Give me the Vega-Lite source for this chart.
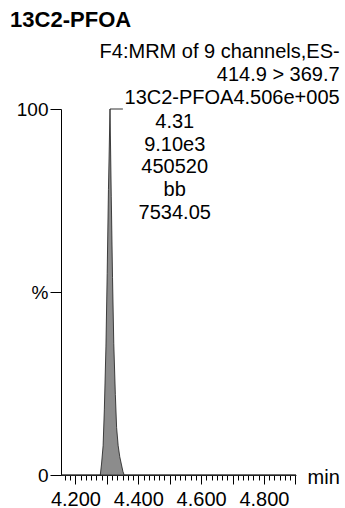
{
  "$schema": "https://vega.github.io/schema/vega-lite/v6.json",
  "autosize": "none",
  "width": 235,
  "height": 366,
  "padding": {"left": 61, "top": 109, "right": 49, "bottom": 33},
  "background": "white",
  "config": {
    "view": {"stroke": null},
    "font": "Liberation Sans",
    "axis": {"labelFont": "Liberation Sans", "labelColor": "black", "domainColor": "black", "tickColor": "black", "grid": false, "title": null}
  },
  "datasets": {
    "peak": [
      {"t": 4.154, "pct": 0},
      {"t": 4.279, "pct": 0},
      {"t": 4.283, "pct": 3},
      {"t": 4.288, "pct": 8},
      {"t": 4.292, "pct": 18},
      {"t": 4.297, "pct": 35},
      {"t": 4.301, "pct": 55},
      {"t": 4.305, "pct": 78},
      {"t": 4.310, "pct": 100},
      {"t": 4.314, "pct": 76},
      {"t": 4.318, "pct": 54},
      {"t": 4.322, "pct": 36},
      {"t": 4.327, "pct": 22},
      {"t": 4.331, "pct": 13},
      {"t": 4.336, "pct": 8},
      {"t": 4.341, "pct": 5},
      {"t": 4.346, "pct": 3},
      {"t": 4.351, "pct": 1},
      {"t": 4.355, "pct": 0},
      {"t": 4.902, "pct": 0}
    ]
  },
  "layer": [
    {
      "data": {"name": "peak"},
      "mark": {"type": "area", "fill": "#8c8c8c", "stroke": "#1a1a1a", "strokeWidth": 0.8, "interpolate": "linear"},
      "encoding": {
        "x": {"field": "t", "type": "quantitative", "scale": {"domain": [4.154, 4.902], "nice": false, "zero": false},
          "axis": {
            "values": [4.16667, 4.18333, 4.2, 4.21667, 4.23333, 4.25, 4.26667, 4.28333, 4.3, 4.31667, 4.33333, 4.35, 4.36667, 4.38333, 4.4, 4.41667, 4.43333, 4.45, 4.46667, 4.48333, 4.5, 4.51667, 4.53333, 4.55, 4.56667, 4.58333, 4.6, 4.61667, 4.63333, 4.65, 4.66667, 4.68333, 4.7, 4.71667, 4.73333, 4.75, 4.76667, 4.78333, 4.8, 4.81667, 4.83333, 4.85, 4.86667, 4.88333, 4.9],
            "tickCount": 200,
            "labelExpr": "abs(datum.value*5 - round(datum.value*5)) < 0.001 ? format(datum.value, '.3f') : ''",
            "tickSize": {"condition": {"test": "abs(datum.value*10 - round(datum.value*10)) < 0.001", "value": 9}, "value": 5},
            "labelFontSize": 20,
            "labelPadding": 5,
            "labelOverlap": false,
            "labelFlush": false,
            "domainColor": "#333"
          }
        },
        "y": {"field": "pct", "type": "quantitative", "scale": {"domain": [0, 100], "nice": false},
          "axis": {
            "values": [0, 50, 100],
            "labelExpr": "datum.value == 50 ? '%' : datum.label",
            "tickSize": 11,
            "labelPadding": 2,
            "labelFontSize": 19
          }
        }
      }
    },
    {
      "data": {"values": [{"t": 4.310, "t2": 4.351, "pct": 100}]},
      "mark": {"type": "rule", "color": "#333", "strokeWidth": 1},
      "encoding": {
        "x": {"field": "t", "type": "quantitative"},
        "x2": {"field": "t2"},
        "y": {"field": "pct", "type": "quantitative"}
      }
    },
    {
      "data": {"values": [{"label": "13C2-PFOA", "t": 3.992, "pct": 124.3}]},
      "mark": {"type": "text", "align": "left", "baseline": "middle", "fontSize": 22, "fontWeight": "bold", "font": "Liberation Sans", "color": "black", "clip": false},
      "encoding": {
        "x": {"field": "t", "type": "quantitative"},
        "y": {"field": "pct", "type": "quantitative"},
        "text": {"field": "label"}
      }
    },
    {
      "data": {"values": [
        {"label": "F4:MRM of 9 channels,ES-", "t": 5.041, "pct": 115.6},
        {"label": "414.9 > 369.7", "t": 5.041, "pct": 109.3},
        {"label": "13C2-PFOA4.506e+005", "t": 5.041, "pct": 103.0}
      ]},
      "mark": {"type": "text", "align": "right", "baseline": "middle", "fontSize": 20, "font": "Liberation Sans", "color": "black", "clip": false},
      "encoding": {
        "x": {"field": "t", "type": "quantitative"},
        "y": {"field": "pct", "type": "quantitative"},
        "text": {"field": "label"}
      }
    },
    {
      "data": {"values": [
        {"label": "4.31", "t": 4.516, "pct": 96.4},
        {"label": "9.10e3", "t": 4.516, "pct": 90.2},
        {"label": "450520", "t": 4.516, "pct": 84.2},
        {"label": "bb", "t": 4.516, "pct": 77.9},
        {"label": "7534.05", "t": 4.516, "pct": 71.6}
      ]},
      "mark": {"type": "text", "align": "center", "baseline": "middle", "fontSize": 20, "font": "Liberation Sans", "color": "black", "clip": false},
      "encoding": {
        "x": {"field": "t", "type": "quantitative"},
        "y": {"field": "pct", "type": "quantitative"},
        "text": {"field": "label"}
      }
    },
    {
      "data": {"values": [{"label": "min", "t": 4.939, "pct": -0.8}]},
      "mark": {"type": "text", "align": "left", "baseline": "middle", "fontSize": 20, "font": "Liberation Sans", "color": "black", "clip": false},
      "encoding": {
        "x": {"field": "t", "type": "quantitative"},
        "y": {"field": "pct", "type": "quantitative"},
        "text": {"field": "label"}
      }
    }
  ]
}
